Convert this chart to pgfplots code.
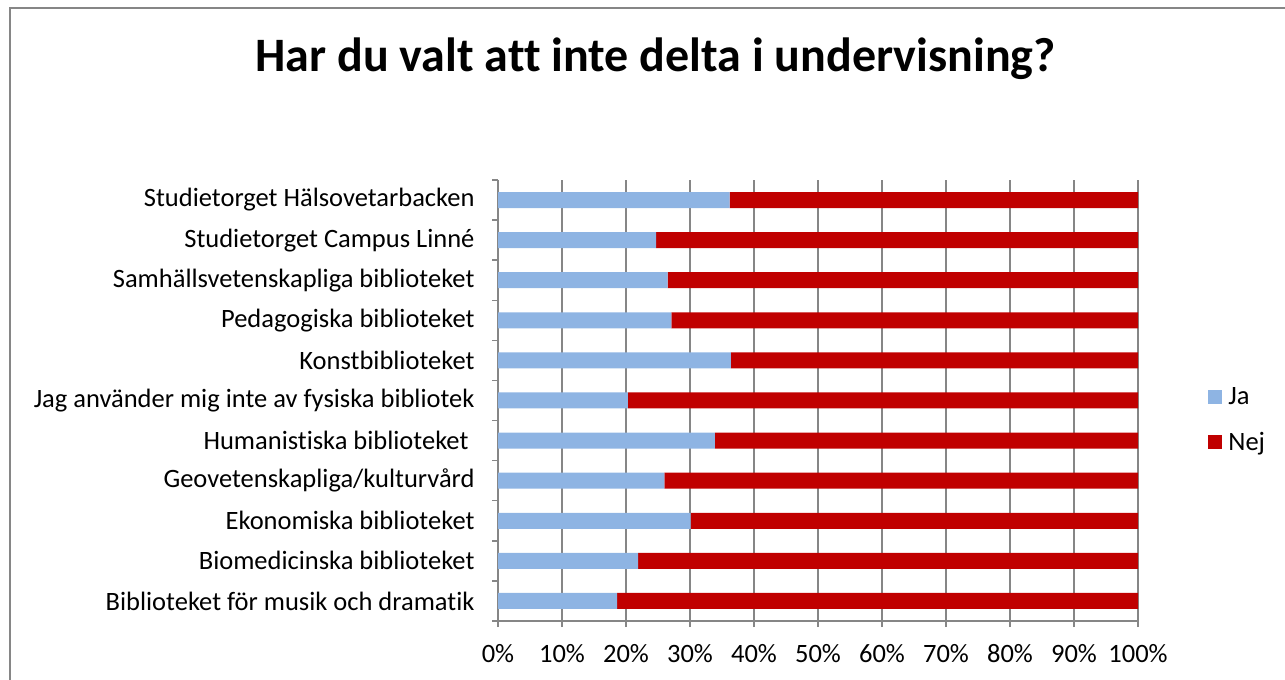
\documentclass[border=0pt]{standalone}
\usepackage{pgfplots}
\pgfplotsset{compat=1.18}
\usepackage{fontspec}
\setmainfont[Ligatures={NoCommon}]{Carlito}
\definecolor{jaC}{HTML}{8EB4E3}
\definecolor{nejC}{HTML}{C00000}
\definecolor{axC}{HTML}{868686}
\begin{document}
\begin{tikzpicture}
\useasboundingbox (0,0) rectangle (1285bp,680bp);
\draw[axC, line width=2bp] (9.5bp,0) -- (9.5bp,671.5bp) -- (1285bp,671.5bp);
\node[anchor=base, font=\fontsize{48bp}{56bp}\selectfont\bfseries] at (655.5bp,608bp) {Har du valt att inte delta i undervisning?};
\begin{axis}[
  at={(498bp,59bp)}, anchor=south west,
  scale only axis, width=640bp, height=441bp,
  xbar stacked, bar width=16bp,
  xmin=0, xmax=100, ymin=-0.5, ymax=10.5,
  axis x line*=bottom, axis y line*=left,
  axis line style={axC, line width=1.5bp, -},
  xmajorgrids, grid style={axC, line width=1.5bp},
  xtick={0,10,...,100},
  xticklabels={0\%,10\%,20\%,30\%,40\%,50\%,60\%,70\%,80\%,90\%,100\%},
  ytick={0,...,10},
  yticklabels={Biblioteket för musik och dramatik, Biomedicinska biblioteket, Ekonomiska biblioteket, Geovetenskapliga/kulturvård, Humanistiska biblioteket\kern6bp, Jag använder mig inte av fysiska bibliotek, Konstbiblioteket, Pedagogiska biblioteket, Samhällsvetenskapliga biblioteket, Studietorget Campus Linné, Studietorget Hälsovetarbacken},
  minor ytick={-0.5,0.5,...,10.5},
  tick align=outside,
  major tick length=6bp, minor tick length=6bp,
  major y tick style={draw=none},
  tick style={axC, line width=1.5bp},
  ticklabel style={font=\fontsize{26.5bp}{30bp}\selectfont},
  yticklabel style={xshift=-14bp},
  xticklabel style={yshift=-14bp},
  legend style={at={(1.105,0.456)}, anchor=west, draw=none, fill=none,
    font=\fontsize{26.5bp}{30bp}\selectfont, row sep=22bp,
    nodes={inner xsep=6bp}},
  legend cell align=left,
  legend image code/.code={\fill[#1,draw=none] (0bp,-7bp) rectangle (14bp,7bp);},
]
\addplot[fill=jaC, draw=none] coordinates {(18.6,0) (21.9,1) (30.1,2) (26.0,3) (33.9,4) (20.3,5) (36.4,6) (27.1,7) (26.5,8) (24.7,9) (36.2,10)};
\addplot[fill=nejC, draw=none] coordinates {(81.4,0) (78.1,1) (69.9,2) (74.0,3) (66.1,4) (79.7,5) (63.6,6) (72.9,7) (73.5,8) (75.3,9) (63.8,10)};
\legend{Ja, Nej}
\end{axis}
\end{tikzpicture}
\end{document}
